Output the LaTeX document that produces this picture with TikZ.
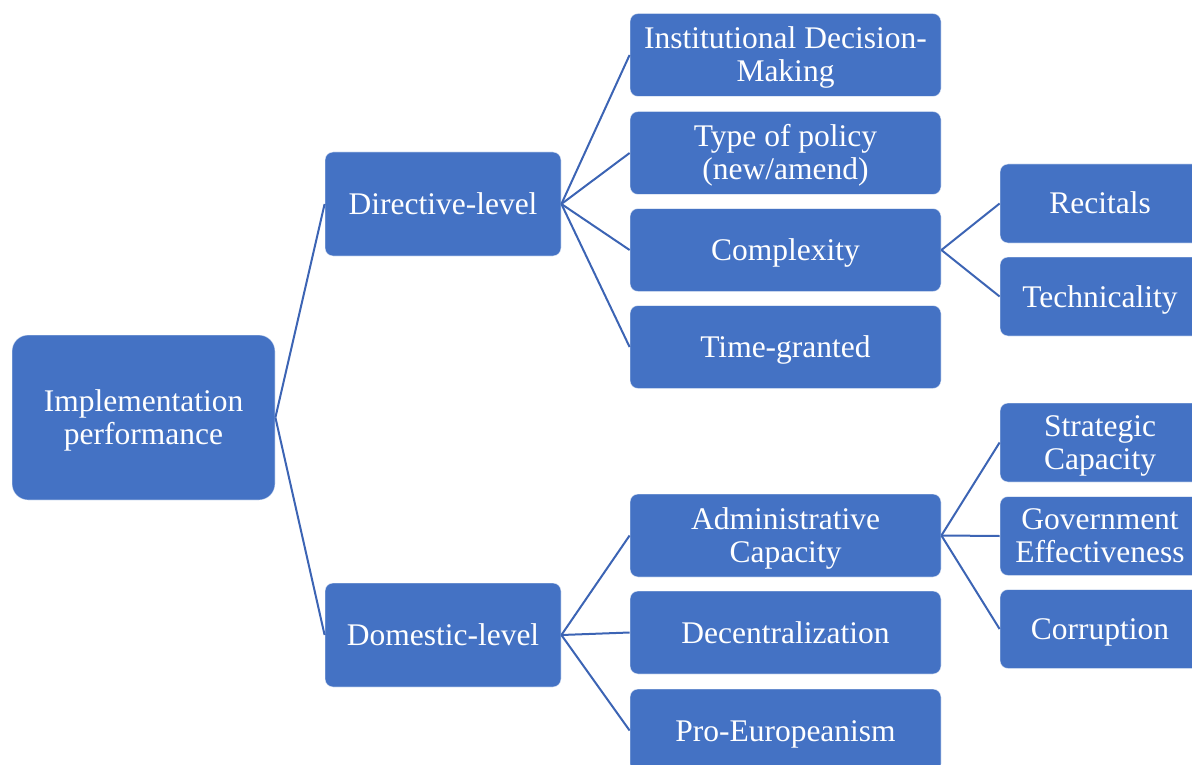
\documentclass[tikz,border=0pt]{standalone}
\usepackage{fontspec}
\setmainfont{Liberation Serif}
\definecolor{boxblue}{RGB}{68,114,196}
\definecolor{linkblue}{RGB}{60,100,180}
\begin{document}
\begin{tikzpicture}[x=1pt,y=-1pt,
  % fixed ascent/descent struts so every line sits at the same height
  box/.style={rectangle, rounded corners=8pt, fill=boxblue, draw=white, draw opacity=0.55,
    line width=0.8pt, text=white, align=center, inner sep=0pt,
    font=\fontsize{31.5}{33}\selectfont,
    execute at begin node={\rule{0pt}{28pt}},
    execute at end node={\rule[-7pt]{0pt}{7pt}}},
  % two-line labels: strut reaching the top of the first line
  twoline/.style={execute at begin node={\rule{0pt}{60pt}}},
  rootbox/.style={box, rounded corners=16pt, minimum width=263pt, minimum height=165pt},
  midbox/.style={box, minimum width=236pt, minimum height=104pt},
  itembox/.style={box, minimum width=311pt, minimum height=83pt},
  subbox/.style={box, minimum width=200pt, minimum height=79pt},
  link/.style={draw=linkblue, line width=2pt}]
\useasboundingbox (0,0) rectangle (1192,765);
\clip (0,0) rectangle (1192,765);

% root and second level
\node[rootbox, twoline] (root) at (143.5,417.5) {Implementation\\performance};
\node[midbox] (dir) at (443,204) {Directive-level};
\node[midbox] (dom) at (443,635) {Domestic-level};

% directive-level factors
\node[itembox, twoline] (inst) at (785.5,55) {Institutional Decision-\\Making};
\node[itembox, twoline] (type) at (785.5,153) {Type of policy\\(new/amend)};
\node[itembox] (comp) at (785.5,250) {Complexity};
\node[itembox] (time) at (785.5,347) {Time-granted};

% domestic-level factors
\node[itembox, twoline] (admin) at (785.5,535.5) {Administrative\\Capacity};
\node[itembox] (dec) at (785.5,632.5) {Decentralization};
\node[itembox] (pro) at (785.5,730.5) {Pro-Europeanism};

% sub-factors
\node[subbox] (rec) at (1100,203.5) {Recitals};
\node[subbox] (tech) at (1100,296.5) {Technicality};
\node[subbox, twoline] (strat) at (1100,442.5) {Strategic\\Capacity};
\node[subbox, twoline] (gov) at (1100,536) {Government\\Effectiveness};
\node[subbox] (corr) at (1100,629) {Corruption};

% connectors
\foreach \p/\c in {root/dir, root/dom,
                   dir/inst, dir/type, dir/comp, dir/time,
                   dom/admin, dom/dec, dom/pro,
                   comp/rec, comp/tech,
                   admin/strat, admin/gov, admin/corr}
  \draw[link] (\p.east) -- (\c.west);
\end{tikzpicture}
\end{document}
